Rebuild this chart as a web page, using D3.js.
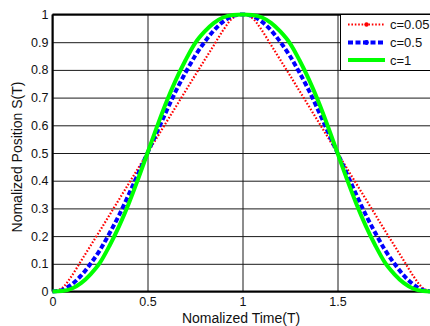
<!DOCTYPE html>
<html><head><meta charset="utf-8">
<script src="https://cdn.jsdelivr.net/npm/d3@7"></script>
<style>
body{margin:0;background:#fff}
svg{display:block}
text{font-family:Arial,"Liberation Sans",Helvetica,sans-serif}
</style>
</head><body>
<svg id="chart" width="430" height="326"></svg>
<script>
// ---- data ----
const timeValues = [0,0.05,0.1,0.15,0.2,0.25,0.3,0.35,0.4,0.45,0.5,0.55,0.6,0.65,0.7,0.75,0.8,0.85,0.9,0.95,1,
  1.05,1.1,1.15,1.2,1.25,1.3,1.35,1.4,1.45,1.5,1.55,1.6,1.65,1.7,1.75,1.8,1.85,1.9,1.95,2];
const seriesC005 = [0,0.012,0.055,0.11,0.165,0.22,0.276,0.332,0.388,0.444,0.5,0.556,0.612,0.668,0.724,0.78,0.835,0.89,0.945,0.988,1,
  0.988,0.945,0.89,0.835,0.78,0.724,0.668,0.612,0.556,0.5,0.444,0.388,0.332,0.276,0.22,0.165,0.11,0.055,0.012,0];
const seriesC05 = [0,0.005,0.025,0.057,0.1,0.15,0.21,0.275,0.348,0.424,0.5,0.576,0.652,0.725,0.79,0.85,0.9,0.943,0.975,0.995,1,
  0.995,0.975,0.943,0.9,0.85,0.79,0.725,0.652,0.576,0.5,0.424,0.348,0.275,0.21,0.15,0.1,0.057,0.025,0.005,0];
const seriesC1 = [0,0.002,0.01,0.03,0.062,0.104,0.165,0.235,0.315,0.405,0.5,0.595,0.685,0.765,0.835,0.896,0.938,0.97,0.99,0.998,1,
  0.998,0.99,0.97,0.938,0.896,0.835,0.765,0.685,0.595,0.5,0.405,0.315,0.235,0.165,0.104,0.062,0.03,0.01,0.002,0];
const seriesNames = ["c=0.05","c=0.5","c=1"];
// the tick at 2 lies on the right edge of the (cropped) picture; its label is off-canvas
const xTickValues = [0,0.5,1,1.5];
const xTickLabels = ["0","0.5","1","1.5"];
const yTickValues = [0,0.1,0.2,0.3,0.4,0.5,0.6,0.7,0.8,0.9,1];
const yTickLabels = ["0","0.1","0.2","0.3","0.4","0.5","0.6","0.7","0.8","0.9","1"];
const xLabel = "Nomalized Time(T)";
const yLabel = "Nomalized Position S(T)";

// ---- layout ----
const pLeft = 52.5, pTop = 14.5, pRight = 432.5, pBottom = 291.5;
const svg = d3.select("#chart");
svg.append("rect").attr("width",430).attr("height",326).attr("fill","#fff");

const x = d3.scaleLinear().domain([0,2]).range([pLeft,pRight]);
const y = d3.scaleLinear().domain([0,1]).range([pBottom,pTop]);

// grid + y labels
const gy = svg.append("g").attr("transform",`translate(${pLeft},0)`)
  .call(d3.axisLeft(y).tickValues(yTickValues).tickFormat((d,i)=>yTickLabels[i])
        .tickSize(-(pRight-pLeft)).tickPadding(4));
gy.select(".domain").remove();
gy.selectAll("line").attr("stroke","#1a1a1a").attr("stroke-width",1);
gy.selectAll("text").attr("font-size",12.5).attr("fill","#111");

const gx = svg.append("g").attr("transform",`translate(0,${pBottom})`)
  .call(d3.axisBottom(x).tickValues(xTickValues).tickFormat((d,i)=>xTickLabels[i])
        .tickSize(-(pBottom-pTop)).tickPadding(6));
gx.select(".domain").remove();
gx.selectAll("line").attr("stroke","#1a1a1a").attr("stroke-width",1);
gx.selectAll("text").attr("font-size",12.5).attr("fill","#111");

// axes box
svg.append("line").attr("x1",pLeft).attr("x2",pLeft).attr("y1",pTop).attr("y2",pBottom)
  .attr("stroke","#000").attr("stroke-width",2);
svg.append("line").attr("x1",pLeft).attr("x2",pRight).attr("y1",pTop).attr("y2",pTop)
  .attr("stroke","#000").attr("stroke-width",2);
svg.append("line").attr("x1",pLeft).attr("x2",pRight).attr("y1",pBottom).attr("y2",pBottom)
  .attr("stroke","#000").attr("stroke-width",2);
svg.append("line").attr("x1",pRight).attr("x2",pRight).attr("y1",pTop).attr("y2",pBottom)
  .attr("stroke","#000").attr("stroke-width",2);

// series
const styles = [
  {color:"#ff0000", width:2.2, dash:"1.6,1.8"},
  {color:"#0000ff", width:4, dash:"5,2.5"},
  {color:"#00ff00", width:4, dash:null}
];
const allSeries = [seriesC005, seriesC05, seriesC1];
const line = d3.line().x((d,i)=>x(timeValues[i])).y(d=>y(d)).curve(d3.curveMonotoneX);
allSeries.forEach((s,k)=>{
  svg.append("path").datum(s).attr("d",line).attr("fill","none")
    .attr("stroke",styles[k].color).attr("stroke-width",styles[k].width)
    .attr("stroke-dasharray",styles[k].dash);
});

// legend
const lg = svg.append("g");
lg.append("rect").attr("x",340.5).attr("y",pTop).attr("width",100).attr("height",56)
  .attr("fill","#fff").attr("stroke","#000").attr("stroke-width",1);
const rowsY = [24.5,42.5,60];
seriesNames.forEach((n,k)=>{
  lg.append("line").attr("x1",348).attr("x2",385).attr("y1",rowsY[k]).attr("y2",rowsY[k])
    .attr("stroke",styles[k].color).attr("stroke-width",styles[k].width)
    .attr("stroke-dasharray",styles[k].dash);
  if(k<2) lg.append("circle").attr("cx",366.5).attr("cy",rowsY[k]).attr("r",k===0?2.2:2.4)
    .attr("fill",styles[k].color);
  lg.append("text").attr("x",390).attr("y",rowsY[k]).attr("dy","0.36em")
    .attr("font-size",13).attr("fill","#111").text(n);
});

// axis labels
svg.append("text").attr("x",241).attr("y",323).attr("text-anchor","middle")
  .attr("font-size",14).attr("fill","#111").text(xLabel);
svg.append("text").attr("transform","translate(22,157) rotate(-90)").attr("text-anchor","middle")
  .attr("font-size",14).attr("fill","#111").text(yLabel);
</script>
</body></html>
